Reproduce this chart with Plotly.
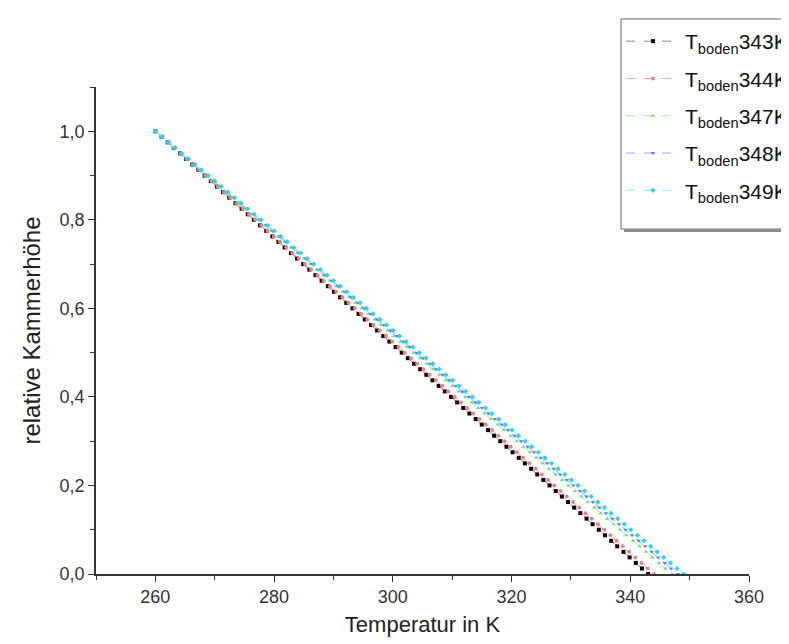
import plotly.graph_objects as go

# relative chamber height (shared sample levels)
rel_hoehe = [1.0, 0.9875, 0.975, 0.9625, 0.95, 0.9375, 0.925, 0.9125, 0.9, 0.8875,
             0.875, 0.8625, 0.85, 0.8375, 0.825, 0.8125, 0.8, 0.7875, 0.775, 0.7625,
             0.75, 0.7375, 0.725, 0.7125, 0.7, 0.6875, 0.675, 0.6625, 0.65, 0.6375,
             0.625, 0.6125, 0.6, 0.5875, 0.575, 0.5625, 0.55, 0.5375, 0.525, 0.5125,
             0.5, 0.4875, 0.475, 0.4625, 0.45, 0.4375, 0.425, 0.4125, 0.4, 0.3875,
             0.375, 0.3625, 0.35, 0.3375, 0.325, 0.3125, 0.3, 0.2875, 0.275, 0.2625,
             0.25, 0.2375, 0.225, 0.2125, 0.2, 0.1875, 0.175, 0.1625, 0.15, 0.1375,
             0.125, 0.1125, 0.1, 0.0875, 0.075, 0.0625, 0.05, 0.0375, 0.025, 0.0125, 0.0]

temp_343 = [260, 261.04, 262.08, 263.11, 264.15, 265.19, 266.23, 267.26, 268.30, 269.34,
            270.38, 271.41, 272.45, 273.49, 274.53, 275.56, 276.60, 277.64, 278.68, 279.71,
            280.75, 281.79, 282.83, 283.86, 284.90, 285.94, 286.98, 288.01, 289.05, 290.09,
            291.13, 292.16, 293.20, 294.24, 295.28, 296.31, 297.35, 298.39, 299.43, 300.46,
            301.50, 302.54, 303.58, 304.61, 305.65, 306.69, 307.73, 308.76, 309.80, 310.84,
            311.88, 312.91, 313.95, 314.99, 316.03, 317.06, 318.10, 319.14, 320.18, 321.21,
            322.25, 323.29, 324.33, 325.36, 326.40, 327.44, 328.48, 329.51, 330.55, 331.59,
            332.63, 333.66, 334.70, 335.74, 336.78, 337.81, 338.85, 339.89, 340.93, 341.96, 343.00]

temp_344 = [260, 261.05, 262.1, 263.15, 264.2, 265.25, 266.3, 267.35, 268.4, 269.45,
            270.5, 271.55, 272.6, 273.65, 274.7, 275.75, 276.8, 277.85, 278.9, 279.95,
            281.0, 282.05, 283.1, 284.15, 285.2, 286.25, 287.3, 288.35, 289.4, 290.45,
            291.5, 292.55, 293.6, 294.65, 295.7, 296.75, 297.8, 298.85, 299.9, 300.95,
            302.0, 303.05, 304.1, 305.15, 306.2, 307.25, 308.3, 309.35, 310.4, 311.45,
            312.5, 313.55, 314.6, 315.65, 316.7, 317.75, 318.8, 319.85, 320.9, 321.95,
            323.0, 324.05, 325.1, 326.15, 327.2, 328.25, 329.3, 330.35, 331.4, 332.45,
            333.5, 334.55, 335.6, 336.65, 337.7, 338.75, 339.8, 340.85, 341.9, 342.95, 344.0]

temp_347 = [260, 261.09, 262.18, 263.26, 264.35, 265.44, 266.53, 267.61, 268.70, 269.79,
            270.88, 271.96, 273.05, 274.14, 275.23, 276.31, 277.40, 278.49, 279.58, 280.66,
            281.75, 282.84, 283.93, 285.01, 286.10, 287.19, 288.28, 289.36, 290.45, 291.54,
            292.63, 293.71, 294.80, 295.89, 296.98, 298.06, 299.15, 300.24, 301.33, 302.41,
            303.50, 304.59, 305.68, 306.76, 307.85, 308.94, 310.03, 311.11, 312.20, 313.29,
            314.38, 315.46, 316.55, 317.64, 318.73, 319.81, 320.90, 321.99, 323.08, 324.16,
            325.25, 326.34, 327.43, 328.51, 329.60, 330.69, 331.78, 332.86, 333.95, 335.04,
            336.13, 337.21, 338.30, 339.39, 340.48, 341.56, 342.65, 343.74, 344.83, 345.91, 347.00]

temp_348 = [260, 261.1, 262.2, 263.3, 264.4, 265.5, 266.6, 267.7, 268.8, 269.9,
            271.0, 272.1, 273.2, 274.3, 275.4, 276.5, 277.6, 278.7, 279.8, 280.9,
            282.0, 283.1, 284.2, 285.3, 286.4, 287.5, 288.6, 289.7, 290.8, 291.9,
            293.0, 294.1, 295.2, 296.3, 297.4, 298.5, 299.6, 300.7, 301.8, 302.9,
            304.0, 305.1, 306.2, 307.3, 308.4, 309.5, 310.6, 311.7, 312.8, 313.9,
            315.0, 316.1, 317.2, 318.3, 319.4, 320.5, 321.6, 322.7, 323.8, 324.9,
            326.0, 327.1, 328.2, 329.3, 330.4, 331.5, 332.6, 333.7, 334.8, 335.9,
            337.0, 338.1, 339.2, 340.3, 341.4, 342.5, 343.6, 344.7, 345.8, 346.9, 348.0]

temp_349 = [260, 261.11, 262.23, 263.34, 264.45, 265.56, 266.68, 267.79, 268.90, 270.01,
            271.13, 272.24, 273.35, 274.46, 275.58, 276.69, 277.80, 278.91, 280.03, 281.14,
            282.25, 283.36, 284.48, 285.59, 286.70, 287.81, 288.93, 290.04, 291.15, 292.26,
            293.38, 294.49, 295.60, 296.71, 297.83, 298.94, 300.05, 301.16, 302.28, 303.39,
            304.50, 305.61, 306.73, 307.84, 308.95, 310.06, 311.18, 312.29, 313.40, 314.51,
            315.63, 316.74, 317.85, 318.96, 320.08, 321.19, 322.30, 323.41, 324.53, 325.64,
            326.75, 327.86, 328.98, 330.09, 331.20, 332.31, 333.43, 334.54, 335.65, 336.76,
            337.88, 338.99, 340.10, 341.21, 342.33, 343.44, 344.55, 345.66, 346.78, 347.89, 349.00]

series_labels = ["343K", "344K", "347K", "348K", "349K"]
series_temps = [temp_343, temp_344, temp_347, temp_348, temp_349]

line_colors = ["#8c8c8c", "#ffa0a0", "#a0f0a0", "#a0a0ff", "#80ffff"]
marker_colors = ["#000000", "#f08080", "#70e070", "#7070ff", "#20d8f0"]
symbols = ["square", "circle", "triangle-up", "triangle-down", "diamond"]

FONT = "Liberation Sans, Arial, sans-serif"

fig = go.Figure()
for i, (lab, temps) in enumerate(zip(series_labels, series_temps)):
    fig.add_trace(go.Scatter(
        x=temps, y=rel_hoehe, mode="lines+markers",
        name="T<sub>boden</sub>" + lab,
        legendgroup=lab,
        line=dict(color=line_colors[i], width=1, dash="dash"),
        marker=dict(color=marker_colors[i], symbol=symbols[i], size=4),
    ))

W, H = 789, 644
L, R, T, B = 88, 48, 79, 78
pw, ph = W - L - R, H - T - B

def px_x(px):
    return (px - L) / pw

def px_y(py):
    return (H - B - py) / ph

axis_common = dict(
    showline=True, linecolor="#333333", linewidth=1.5,
    ticks="outside", ticklen=6, tickwidth=1.2, tickcolor="#333333",
    showgrid=False, zeroline=False, mirror=False,
    tickfont=dict(family=FONT, size=18, color="#333333"),
    minor=dict(ticks="outside", ticklen=4, tickwidth=1, tickcolor="#333333"),
)

# legend frame with drop shadow (drawn as shapes, legend itself frameless)
box_l, box_t, box_r, box_b = 613, 11, 805, 221
shapes = [
    dict(type="rect", xref="paper", yref="paper", layer="above",
         x0=px_x(box_l + 3), x1=px_x(box_r + 3), y0=px_y(box_b + 3), y1=px_y(box_t + 3),
         fillcolor="#8a8a8a", line=dict(width=0)),
    dict(type="rect", xref="paper", yref="paper", layer="above",
         x0=px_x(box_l), x1=px_x(box_r), y0=px_y(box_b), y1=px_y(box_t),
         fillcolor="white", line=dict(color="#9a9a9a", width=1.5)),
]

fig.update_layout(
    width=W, height=H,
    margin=dict(l=L, r=R, t=T, b=B, autoexpand=False),
    paper_bgcolor="white", plot_bgcolor="white",
    separators=",.",
    font=dict(family=FONT, color="#222222"),
    shapes=shapes,
    xaxis=dict(range=[250, 360], dtick=20, tick0=260,
               title=dict(text="Temperatur in K", font=dict(size=22, color="#222222"), standoff=10),
               **axis_common),
    yaxis=dict(range=[0, 1.1], dtick=0.2, tickformat=".1f",
               title=dict(text="relative Kammerhöhe", font=dict(size=24, color="#222222"), standoff=12),
               **axis_common),
    legend=dict(x=px_x(613), y=px_y(13), xanchor="left", yanchor="top",
                bgcolor="rgba(0,0,0,0)", borderwidth=0,
                font=dict(family=FONT, size=21, color="#111111"),
                itemwidth=54, tracegroupgap=7),
)
fig.update_xaxes(minor=dict(dtick=10))
fig.update_yaxes(minor=dict(dtick=0.1))

fig.write_html("out.html")
